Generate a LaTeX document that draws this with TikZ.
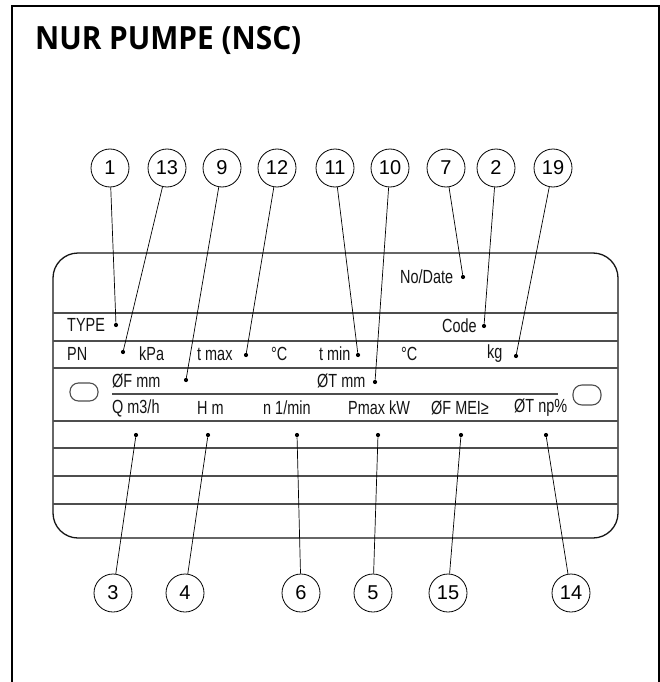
\documentclass[tikz,border=0pt]{standalone}
\usepackage{fontspec}
\setmainfont{Liberation Sans}
\newfontfamily\platefont[FakeStretch=0.76]{Liberation Sans}
\newfontfamily\titlefont[FakeStretch=0.93]{Open Sans}
\usepackage{xcolor}
\usepackage{tikz}
\definecolor{ink}{HTML}{141414}
\definecolor{rule}{HTML}{4D4D4D}
\tikzset{
  frame/.style={black,line width=2pt},
  plate/.style={ink,line width=1.3pt,rounded corners=25pt},
  rowline/.style={rule,line width=1.1pt},
  num/.style={circle,draw=black,line width=0.8pt,minimum size=38pt,inner sep=0pt,font=\fontsize{20}{22}\selectfont},
  dot/.style={circle,fill=black,inner sep=0pt,minimum size=4.2pt},
  lab/.style={anchor=west,inner sep=0pt,text=ink,font=\platefont\fontsize{19}{22}\selectfont},
  lead/.style={black,line width=0.7pt}
}

\begin{document}
\begin{tikzpicture}[x=1pt,y=-1pt]
\useasboundingbox (0,0) rectangle (660,682);
\draw[frame] (12,682) -- (12,6) -- (659,6) -- (659,682);
\node[anchor=base west,inner sep=0pt,font=\titlefont\bfseries\fontsize{32}{36}\selectfont] (title) at (35,50) {NUR PUMPE (NSC)};
% plate
\draw[plate] (53,253) rectangle (618,538);
\foreach \y in {313,341,368,421,448,476,504}{\draw[rowline] (53,\y) -- (618,\y);}
\draw[rowline] (112,394) -- (558,394);
\draw[rowline,rounded corners=8.5pt] (70,383) rectangle (98,401);
\draw[rowline,rounded corners=9pt] (573,385) rectangle (601,405);
% texts on the plate
\node[lab] (nodate) at (400,277) {No/Date};
\node[lab] (type) at (67,325) {TYPE};
\node[lab] (code) at (442,326) {Code};
\node[lab] (pn) at (67,354) {PN};
\node[lab] (kpa) at (139,354) {kPa};
\node[lab] (tmax) at (197,354) {t max};
\node[lab] (degmax) at (271,354) {°C};
\node[lab] (tmin) at (319,354) {t min};
\node[lab] (degmin) at (401,354) {°C};
\node[lab] (kg) at (487,354) {kg};
\node[lab] (fmm) at (112,381) {ØF mm};
\node[lab] (tmm) at (317,381) {ØT mm};
\node[lab] (flow) at (112,408) {Q m3/h};
\node[lab] (head) at (197,408) {H m};
\node[lab] (speed) at (263,408) {n 1/min};
\node[lab] (power) at (348,408) {Pmax kW};
\node[lab] (mei) at (431,408) {ØF MEI≥};
\node[lab] (eff) at (514,408) {ØT np\%};
% callouts above
\foreach \n/\cx/\dx/\dy in {1/110/116/325,13/167/123/352,9/222/186/380,12/277/246/355,11/335/358/355,10/390/375/382,7/446/463/277,2/496/484/326,19/553/516/356}{
  \node[num] (c\n) at (\cx,168) {\n};
  \node[dot] (d\n) at (\dx,\dy) {};
  \draw[lead] (c\n) -- (d\n);
}
% callouts below
\foreach \n/\cx/\dx in {3/113/136,4/185/208,6/301/297,5/373/378,15/448/461,14/571/546}{
  \node[num] (c\n) at (\cx,593) {\n};
  \node[dot] (d\n) at (\dx,435) {};
  \draw[lead] (c\n) -- (d\n);
}
\end{tikzpicture}
\end{document}
